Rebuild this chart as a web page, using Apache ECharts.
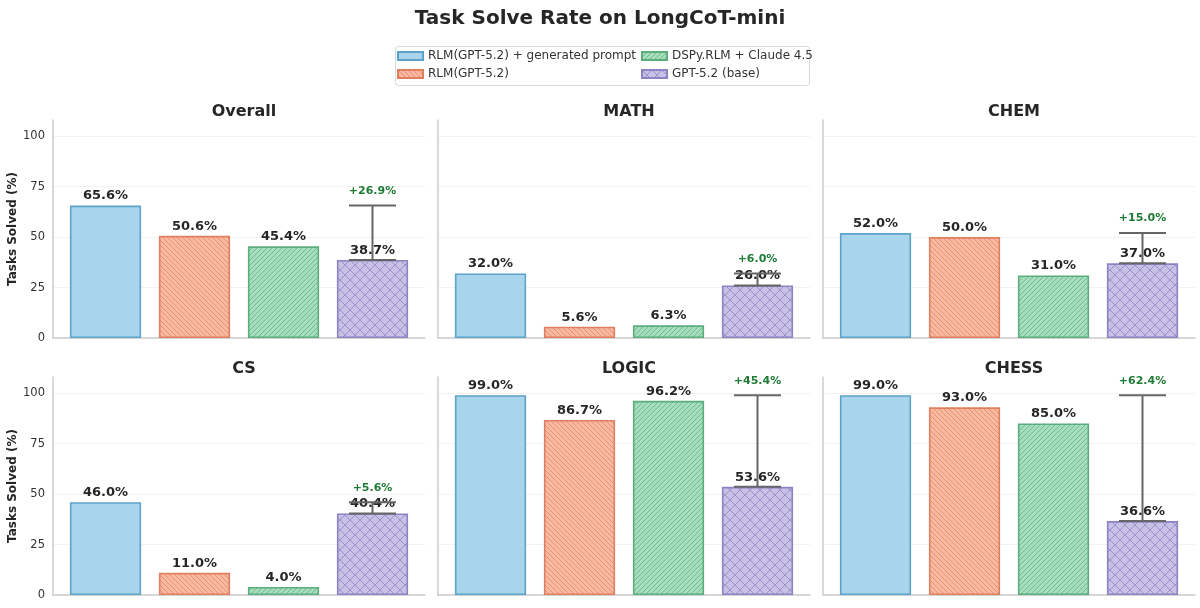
<!DOCTYPE html>
<html>
<head>
<meta charset="utf-8">
<script src="https://cdn.jsdelivr.net/npm/echarts@6/dist/echarts.min.js"></script>
<style>
html,body{margin:0;padding:0;background:#fff;}
#chart{width:1200px;height:608px;}
</style>
</head>
<body>
<div id="chart"></div>
<script>
const categories = ['Overall', 'MATH', 'CHEM', 'CS', 'LOGIC', 'CHESS'];
const models = ['RLM(GPT-5.2) + generated prompt', 'RLM(GPT-5.2)', 'DSPy.RLM + Claude 4.5', 'GPT-5.2 (base)'];
const rlmGenerated = [65.6, 32.0, 52.0, 46.0, 99.0, 99.0];
const rlm = [50.6, 5.6, 50.0, 11.0, 86.7, 93.0];
const dspyClaude = [45.4, 6.3, 31.0, 4.0, 96.2, 85.0];
const gptBase = [38.7, 26.0, 37.0, 40.4, 53.6, 36.6];
const gainLabels = ['+26.9%', '+6.0%', '+15.0%', '+5.6%', '+45.4%', '+62.4%'];
const yTicks = [0, 25, 50, 75, 100];

const seriesValues = [rlmGenerated, rlm, dspyClaude, gptBase];
const FONT = 'DejaVu Sans';

function makePattern(fill, line, type, size) {
  const c = document.createElement('canvas');
  c.width = size; c.height = size;
  const g = c.getContext('2d');
  g.fillStyle = fill;
  g.fillRect(0, 0, size, size);
  if (type !== 'none') {
    g.strokeStyle = line;
    g.lineWidth = 0.9;
    g.beginPath();
    for (let k = -1; k <= 1; k++) {
      if (type === 'back' || type === 'cross') {
        g.moveTo(k * size, 0); g.lineTo(k * size + size, size);
      }
      if (type === 'fwd' || type === 'cross') {
        g.moveTo(k * size, size); g.lineTo(k * size + size, 0);
      }
    }
    g.stroke();
  }
  return { image: c, repeat: 'repeat' };
}

const styles = [
  { fill: '#a8d5ec', edge: '#5ba3c9', hatchColor: '#5ba3c9', hatch: 'none', size: 6 },
  { fill: '#f8b9a0', edge: '#df7f5f', hatchColor: 'rgba(223,127,95,0.75)', hatch: 'back', size: 5 },
  { fill: '#a6ddbf', edge: '#5bae7c', hatchColor: 'rgba(91,174,124,0.8)', hatch: 'fwd', size: 5 },
  { fill: '#c8c1e5', edge: '#8d83c2', hatchColor: 'rgba(141,131,194,0.85)', hatch: 'cross', size: 10 }
];
const patterns = styles.map(s => makePattern(s.fill, s.hatchColor, s.hatch, s.size));

const gridLefts = [53, 438, 823];
const gridTops = [120, 377];
const gridW = 372, gridH = 218;
const xMin = -0.59, xMax = 3.59;
const barW = gridW / (xMax - xMin) * 0.8;

const grids = [], xAxes = [], yAxes = [], series = [], titles = [];
titles.push({
  text: 'Task Solve Rate on LongCoT-mini', left: 'center', top: 4,
  textStyle: { fontFamily: FONT, fontSize: 20, fontWeight: 'bold', color: '#262626' }
});

categories.forEach((cat, gi) => {
  const col = gi % 3, row = Math.floor(gi / 3);
  grids.push({ left: gridLefts[col], top: gridTops[row], width: gridW, height: gridH });
  titles.push({
    text: cat, left: gridLefts[col] + gridW / 2, top: gridTops[row] - 21, textAlign: 'center',
    textStyle: { fontFamily: FONT, fontSize: 16, fontWeight: 'bold', color: '#262626' }
  });
  xAxes.push({
    type: 'value', gridIndex: gi, min: xMin, max: xMax,
    axisLabel: { show: false }, axisTick: { show: false }, splitLine: { show: false },
    axisLine: { show: true, onZero: false, lineStyle: { color: '#cccccc', width: 1.5 } }
  });
  yAxes.push({
    type: 'value', gridIndex: gi, min: 0, max: 108, interval: 25,
    name: col === 0 ? 'Tasks Solved (%)' : '',
    nameLocation: 'middle', nameGap: 33, nameRotate: 90,
    nameTextStyle: { fontFamily: FONT, fontSize: 12, fontWeight: 'bold', color: '#262626' },
    axisLabel: {
      show: col === 0, showMaxLabel: false, fontFamily: FONT, fontSize: 11.5, color: '#333', margin: 8,
      formatter: v => (yTicks.indexOf(v) >= 0 ? String(v) : '')
    },
    axisTick: { show: false },
    axisLine: { show: true, onZero: false, lineStyle: { color: '#cccccc', width: 1.5 } },
    splitLine: { show: true, lineStyle: { color: ['#f2f2f2', '#f2f2f2', '#f2f2f2', '#f2f2f2', '#f2f2f2', 'rgba(0,0,0,0)'], width: 1 } }
  });
  models.forEach((m, mi) => {
    series.push({
      type: 'bar', name: m, xAxisIndex: gi, yAxisIndex: gi,
      data: [[mi, seriesValues[mi][gi]]],
      barWidth: barW, barGap: '-100%',
      itemStyle: { color: patterns[mi], borderColor: styles[mi].edge, borderWidth: 1.6 },
      label: {
        show: true, position: 'top', distance: 3,
        formatter: p => p.value[1].toFixed(1) + '%',
        fontFamily: FONT, fontSize: 13, fontWeight: 'bold', color: '#262626'
      },
      z: 2
    });
  });
  series.push({
    type: 'custom', xAxisIndex: gi, yAxisIndex: gi, z: 10,
    data: [[3, gptBase[gi], rlmGenerated[gi]]],
    renderItem: (params, api) => {
      const x = api.value(0);
      const lo = api.coord([x, api.value(1)]);
      const hi = api.coord([x, api.value(2)]);
      const cap = 23.5;
      const ls = { stroke: '#666666', lineWidth: 2 };
      return {
        type: 'group', children: [
          { type: 'line', shape: { x1: lo[0], y1: lo[1], x2: hi[0], y2: hi[1] }, style: ls },
          { type: 'line', shape: { x1: hi[0] - cap, y1: hi[1], x2: hi[0] + cap, y2: hi[1] }, style: ls },
          { type: 'line', shape: { x1: lo[0] - cap, y1: lo[1], x2: lo[0] + cap, y2: lo[1] }, style: ls },
          {
            type: 'text', x: hi[0], y: hi[1] - 9,
            style: {
              text: gainLabels[gi], align: 'center', verticalAlign: 'bottom',
              fontFamily: FONT, fontSize: 11, fontWeight: 'bold', fill: '#1e7b34'
            }
          }
        ]
      };
    }
  });
});

const legendCommon = {
  orient: 'vertical', itemWidth: 25, itemHeight: 8, itemGap: 6, icon: 'rect',
  textStyle: { fontFamily: FONT, fontSize: 12, color: '#333' }
};

const chart = echarts.init(document.getElementById('chart'), null, { renderer: 'canvas' });
chart.setOption({
  backgroundColor: '#ffffff',
  animation: false,
  title: titles,
  legend: [
    Object.assign({}, legendCommon, { left: 392, top: 45, data: [models[0], models[1]] }),
    Object.assign({}, legendCommon, { left: 636, top: 45, data: [models[2], models[3]] })
  ],
  graphic: [{
    type: 'rect', left: 393, top: 44, shape: { width: 414, height: 39, r: 3 },
    style: { fill: 'none', stroke: '#d9d9d9', lineWidth: 1 }, silent: true
  }],
  grid: grids,
  xAxis: xAxes,
  yAxis: yAxes,
  series: series
});
</script>
</body>
</html>
